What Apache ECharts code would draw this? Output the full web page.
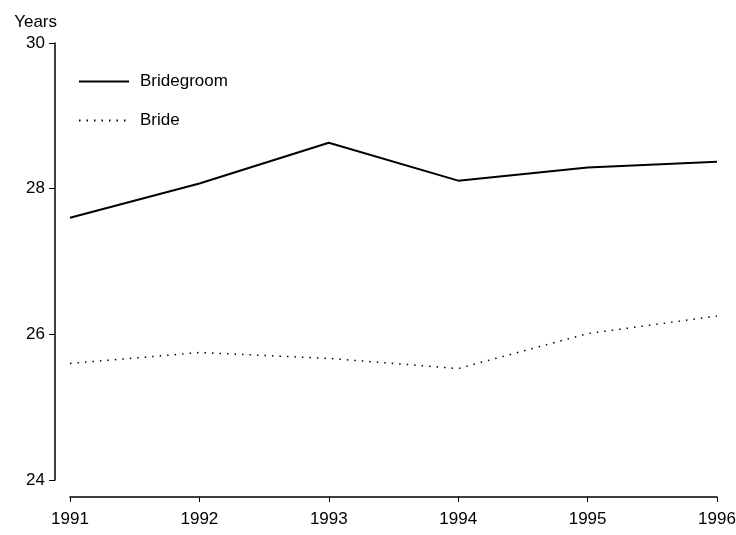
<!DOCTYPE html>
<html>
<head>
<meta charset="utf-8">
<script src="https://cdn.jsdelivr.net/npm/echarts@6/dist/echarts.min.js"></script>
<style>
  html, body { margin: 0; padding: 0; background: #fff; }
  #main { width: 736px; height: 535px; }
</style>
</head>
<body>
<div id="main"></div>
<script>
// data
var years = [1991, 1992, 1993, 1994, 1995, 1996];
var bridegroom = [27.6, 28.07, 28.63, 28.11, 28.29, 28.37];
var bride = [25.6, 25.75, 25.67, 25.53, 26.01, 26.25];
var yTicks = [24, 26, 28, 30];

var myChart = echarts.init(document.getElementById('main'));

function pairs(vals) {
    return years.map(function (y, i) { return [y, vals[i]]; });
}

var font = 'Liberation Sans, Arial, Helvetica, sans-serif';

var option = {
    backgroundColor: '#fff',
    animation: false,
    textStyle: { fontFamily: font, color: '#000' },
    grid: { left: 70, right: 19, top: 43, bottom: 55, outerBoundsMode: 'none' },
    legend: {
        orient: 'vertical',
        left: 73,
        top: 68,
        itemWidth: 50,
        itemHeight: 14,
        itemGap: 22,
        itemStyle: { opacity: 0 },
        textStyle: { fontSize: 17, color: '#000', fontFamily: font, padding: [0, 0, 0, 6] },
        data: ['Bridegroom', 'Bride']
    },
    xAxis: {
        type: 'value',
        min: years[0],
        max: years[years.length - 1],
        interval: 1,
        offset: 17,
        splitLine: { show: false },
        axisLine: { lineStyle: { color: '#000', width: 1.5 } },
        axisTick: { length: 5, lineStyle: { color: '#000' } },
        axisLabel: {
            color: '#000', fontSize: 17, margin: 14,
            formatter: function (v) { return String(v); }
        }
    },
    yAxis: {
        type: 'value',
        min: yTicks[0],
        max: yTicks[yTicks.length - 1],
        interval: 2,
        offset: 15,
        name: 'Years',
        nameLocation: 'end',
        nameGap: 12,
        nameTextStyle: { color: '#000', fontSize: 17, align: 'right', padding: [0, -2, 0, 0] },
        splitLine: { show: false },
        axisLine: { show: true, lineStyle: { color: '#000', width: 1.5 } },
        axisTick: { show: true, length: 6, lineStyle: { color: '#000' } },
        axisLabel: { color: '#000', fontSize: 17, margin: 10 }
    },
    series: [
        {
            name: 'Bridegroom',
            type: 'line',
            symbol: 'none',
            data: pairs(bridegroom),
            lineStyle: { color: '#000', width: 2 },
            itemStyle: { color: '#000' }
        },
        {
            name: 'Bride',
            type: 'line',
            symbol: 'none',
            data: pairs(bride),
            lineStyle: { color: '#000', width: 1.5, type: [1.5, 6] },
            itemStyle: { color: '#000' }
        }
    ]
};

myChart.setOption(option);
</script>
</body>
</html>
